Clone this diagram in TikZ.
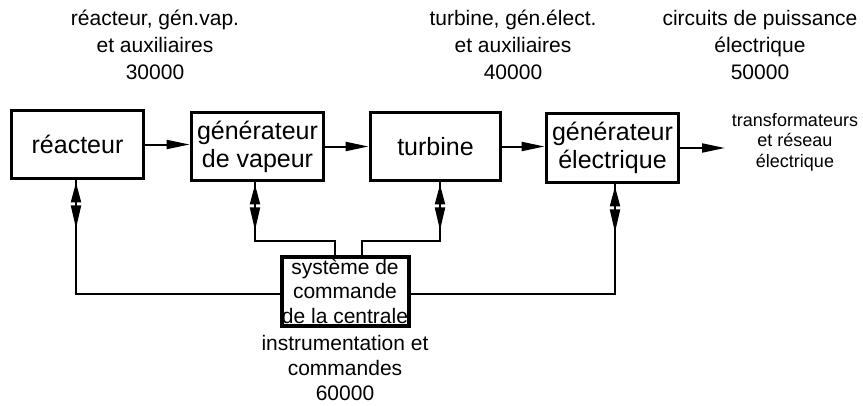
\documentclass[tikz,border=0pt]{standalone}
\usepackage{fontspec}
\setmainfont{Liberation Sans}
\usetikzlibrary{arrows.meta,calc,decorations.markings}
\begin{document}
\begin{tikzpicture}[x=1pt,y=-1pt,
  blk/.style={draw, line width=3.8pt, minimum width=132pt, minimum height=68pt, inner sep=0pt, align=center, font=\fontsize{25}{28}\selectfont},
  lbl/.style={align=center, inner sep=0pt, font=\fontsize{21}{27}\selectfont},
  conn/.style={line width=2pt},
  flow/.style={conn, -{Triangle[length=23pt,width=9pt]}},
  dbl/.style={conn, postaction={decorate}, decoration={markings,
     mark=at position 2pt with {\arrowreversed{Triangle[length=20pt,width=10pt]}},
     mark=at position 48pt with {\arrow{Triangle[length=23pt,width=10pt]}}}}
]
\useasboundingbox (0,0) rectangle (863,405);
% headers
\node[lbl] (h1) at (155,45) {réacteur, gén.vap.\\et auxiliaires\\30000};
\node[lbl] (h2) at (513,45) {turbine, gén.élect.\\et auxiliaires\\40000};
\node[lbl] (h3) at (760,45) {circuits de puissance\\électrique\\50000};
% blocks
\node[blk] (r) at (77.5,144.5) {réacteur};
\node[blk] (gv) at (257.5,146.5) {générateur\\de vapeur};
\node[blk, minimum width=130pt] (t) at (435.5,146.5) {turbine};
\node[blk, minimum height=69pt] (ge) at (612.5,148) {générateur\\électrique};
\node[blk, line width=4pt, minimum width=127pt, minimum height=69pt, font=\fontsize{21}{24.5}\selectfont] (c) at (345,291) {système de\\commande\\de la centrale};
% output text
\node[align=center, inner sep=0pt, font=\fontsize{18}{20.5}\selectfont] (out) at (795,142) {transformateurs\\et réseau\\électrique};
\node[lbl, font=\fontsize{21}{25}\selectfont] (bl) at (345,368) {instrumentation et\\commandes\\60000};
\coordinate (o) at (725,146);
\coordinate (cL) at ($(c.north)+(-10,0)$);
\coordinate (cR) at ($(c.north)+(17,0)$);
% flow arrows
\draw[flow] (r.east) -- (r.east -| gv.west);
\draw[flow] (gv.east) -- (gv.east -| t.west);
\draw[flow] (t.east) -- (t.east -| ge.west);
\draw[flow] (ge.east) -- (ge.east -| o);
% control connections
\draw[dbl] ([xshift=-1.5pt]r.south) |- ([yshift=-3pt]c.west);
\draw[dbl] ([xshift=-2.5pt]gv.south) |- ($(cL)+(0,-14)$) -- (cL);
\draw[dbl] ([xshift=4.5pt]t.south) |- ($(cR)+(0,-14)$) -- (cR);
\draw[dbl] ([xshift=2.5pt]ge.south) |- ([yshift=-3pt]c.east);
\end{tikzpicture}
\end{document}
